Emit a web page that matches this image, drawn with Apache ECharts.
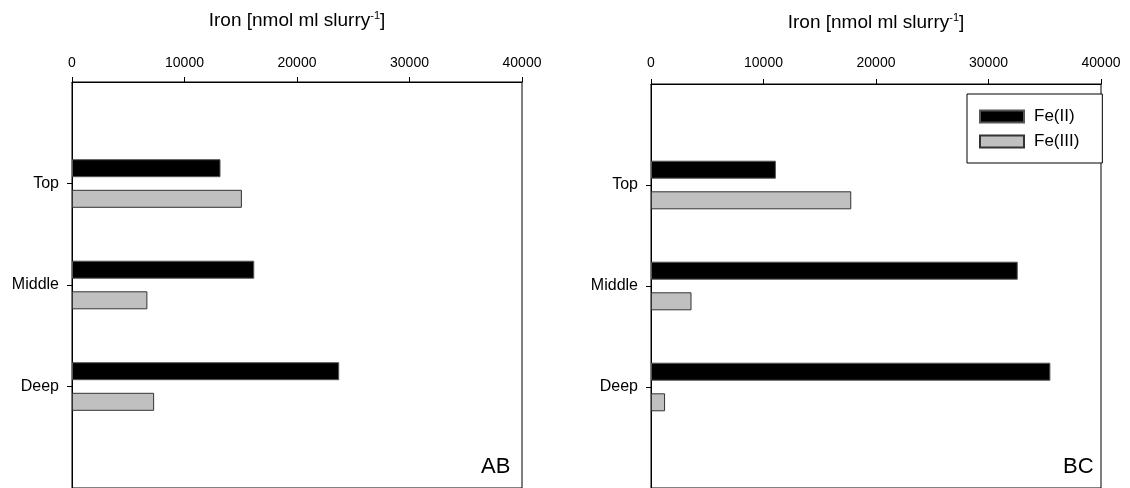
<!DOCTYPE html>
<html>
<head>
<meta charset="utf-8">
<script src="https://cdn.jsdelivr.net/npm/echarts@6/dist/echarts.min.js"></script>
<style>
  html, body { margin: 0; padding: 0; background: #fff; }
  #chart { width: 1130px; height: 488px; }
</style>
</head>
<body>
<div id="chart"></div>
<script>
// Depth horizons (y axis) and iron concentrations, nmol per ml slurry
const categories = ['Top', 'Middle', 'Deep'];
const abFe2 = [13200, 16200, 23750];
const abFe3 = [15100, 6700, 7300];
const bcFe2 = [11100, 32600, 35500];
const bcFe3 = [17800, 3600, 1250];
const seriesNames = ['Fe(II)', 'Fe(III)'];
const panelLabels = ['AB', 'BC'];
const axisTitle = 'Iron [nmol ml slurry{sup|-1}]';

const FONT = 'Arial, "Liberation Sans", sans-serif';

// empty slots above and below the three horizons leave room at both ends of the axis
const axisData = [''].concat(categories, ['']);
const pad = arr => ['-'].concat(arr, ['-']);

const grids = [
  { left: 72, top: 82, width: 450, height: 410 },
  { left: 651, top: 84, width: 450, height: 410 }
];

function xAxisFor(i, labelMargin, nameGap) {
  return {
    type: 'value', gridIndex: i, position: 'top',
    min: 0, max: 40000, interval: 10000,
    name: axisTitle, nameLocation: 'middle', nameGap: nameGap,
    nameTextStyle: {
      fontFamily: FONT, fontSize: 19, color: '#000',
      rich: { sup: { fontFamily: FONT, fontSize: 11, color: '#000', padding: [0, 0, 10, 0] } }
    },
    axisLine: { show: true, lineStyle: { color: '#000', width: 1 } },
    axisTick: { show: true, inside: false, length: 5, lineStyle: { color: '#000' } },
    axisLabel: { fontFamily: FONT, fontSize: 14, color: '#000', margin: labelMargin,
      formatter: v => String(v) },
    splitLine: { show: false }
  };
}

function yAxisFor(i) {
  return {
    type: 'category', gridIndex: i, data: axisData, inverse: true, boundaryGap: false,
    axisLine: { show: true, lineStyle: { color: '#000', width: 1 } },
    axisTick: { show: true, length: 5, lineStyle: { color: '#000' },
      interval: (idx, val) => val !== '' },
    axisLabel: { fontFamily: FONT, fontSize: 16, color: '#000', margin: 13,
      interval: (idx, val) => val !== '' },
    splitLine: { show: false }
  };
}

const fe2Style = { color: '#000000', borderColor: '#555555', borderWidth: 1 };
const fe3Style = { color: '#c0c0c0', borderColor: '#333333', borderWidth: 1 };

function barSeries(name, data, i, style) {
  return {
    type: 'bar', name: name, xAxisIndex: i, yAxisIndex: i,
    data: pad(data), barWidth: 18, barGap: '70%',
    itemStyle: style, emphasis: { disabled: true }, animation: false
  };
}

const chart = echarts.init(document.getElementById('chart'), null, { renderer: 'canvas' });
chart.setOption({
  backgroundColor: '#ffffff',
  animation: false,
  grid: grids.map(g => Object.assign({ show: true, borderColor: '#000', borderWidth: 1,
    backgroundColor: 'transparent', containLabel: false }, g)),
  xAxis: [xAxisFor(0, 12, 51), xAxisFor(1, 14, 51)],
  yAxis: [yAxisFor(0), yAxisFor(1)],
  legend: {
    data: seriesNames, orient: 'vertical', left: 967, top: 94,
    itemWidth: 44, itemHeight: 12, itemGap: 8,
    padding: [14, 23, 13, 12],
    borderColor: '#000', borderWidth: 1, backgroundColor: '#fff',
    icon: 'rect', selectedMode: false,
    textStyle: { fontFamily: FONT, fontSize: 17, color: '#000', padding: [0, 0, 0, 5] }
  },
  graphic: [
    { type: 'text', left: 481, top: 456, silent: true,
      style: { text: panelLabels[0], font: '22px ' + FONT, fill: '#000' } },
    { type: 'text', left: 1063, top: 456, silent: true,
      style: { text: panelLabels[1], font: '22px ' + FONT, fill: '#000' } }
  ],
  series: [
    barSeries(seriesNames[0], abFe2, 0, fe2Style),
    barSeries(seriesNames[1], abFe3, 0, fe3Style),
    barSeries(seriesNames[0], bcFe2, 1, fe2Style),
    barSeries(seriesNames[1], bcFe3, 1, fe3Style)
  ]
});
</script>
</body>
</html>
